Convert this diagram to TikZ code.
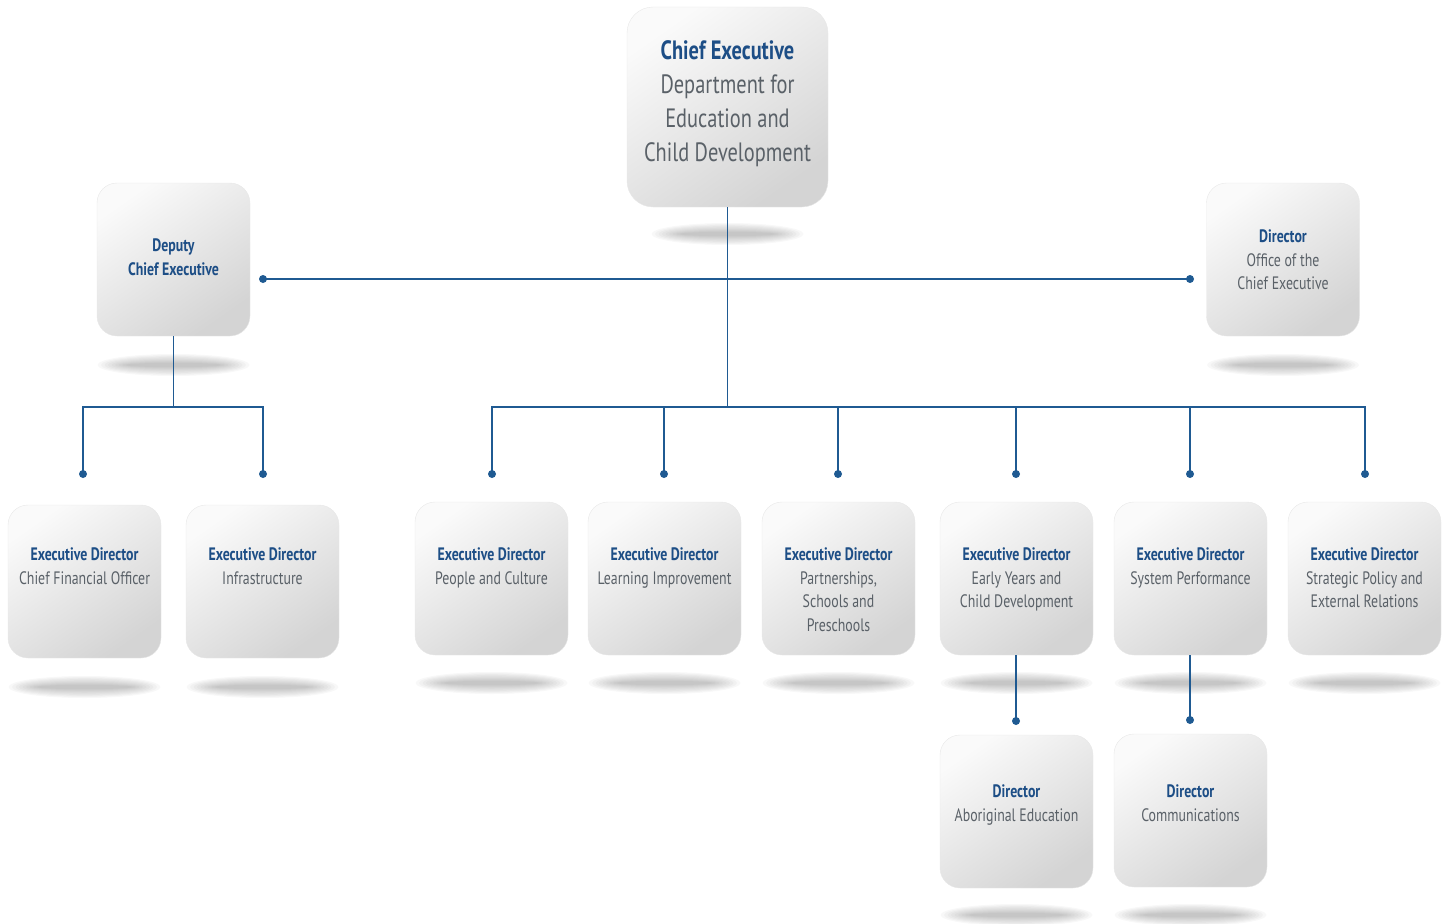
\documentclass[tikz,border=0pt]{standalone}
\usepackage{fontspec}
\setmainfont[FakeStretch=0.77]{PT Sans}
\usepackage{tikz}
\usetikzlibrary{positioning,shadings}

\definecolor{orgblue}{HTML}{1F5A92}
\definecolor{titleblue}{HTML}{1D4E86}
\definecolor{subgray}{HTML}{5A6168}

\tikzset{
  card/.style={rectangle, rounded corners=20pt, minimum width=153pt, minimum height=153pt,
    draw=black!9, top color=black!2, bottom color=black!17, shading angle=35, inner sep=0pt},
  cardtext/.style={align=center, text=subgray, font=\fontsize{18}{23.5}\selectfont, inner sep=0pt},
  bigtext/.style={cardtext, font=\fontsize{26.5}{34}\selectfont},
  wire/.style={orgblue, line width=1.2pt},
  dot/.style={circle, fill=orgblue, inner sep=0pt, minimum size=8pt},
}
\newcommand\hd[1]{{\bfseries\color{titleblue}#1}}
% soft shadow on the floor under a card: x, y, half width
\newcommand\floorshadow[3]{%
  \foreach \k in {0,...,8}
    \fill[black, opacity=0.026] (#1,#2) ellipse [x radius={#3-3.5*\k}, y radius={11-1.1*\k}];}

\begin{document}
\begin{tikzpicture}[x=1pt, y=-1pt]
	\useasboundingbox (0,0) rectangle (1450,923);

	% shadows
	\floorshadow{727.5}{234}{76}
	\floorshadow{173.5}{365}{76}
	\floorshadow{1283}{365}{76}
	\floorshadow{84.5}{687}{76}
	\floorshadow{262.5}{687}{76}
	\foreach \x in {491.5,664.5,838.5,1016.5,1190.5,1364.5}
		\floorshadow{\x}{683}{76};
	\floorshadow{1016.5}{915}{76}
	\floorshadow{1190.5}{915}{76}

	% cards
	\node[card, minimum width=201pt, minimum height=200pt, rounded corners=26pt] (ce) at (727.5,107) {};
	\node[card] (dce) at (173.5,259.5) {};
	\node[card] (doc) at (1283,259.5) {};
	\node[card] (cfo) at (84.5,581.5) {};
	\node[card] (infr) at (262.5,581.5) {};
	\node[card] (pc) at (491.5,578.5) {};
	\node[card] (li) at (664.5,578.5) {};
	\node[card] (psp) at (838.5,578.5) {};
	\node[card] (eycd) at (1016.5,578.5) {};
	\node[card] (sp) at (1190.5,578.5) {};
	\node[card] (sper) at (1364.5,578.5) {};
	\node[card] (ae) at (1016.5,811.5) {};
	\node[card] (com) at (1190.5,810.5) {};

	% texts
	\node[bigtext, below=34pt of ce.north] (ce-t) {\hd{Chief Executive}\\Department for\\Education and\\Child Development};
	\node[cardtext, below=56pt of dce.north] (dce-t) {\hd{Deputy}\\\hd{Chief Executive}};
	\node[cardtext, below=47pt of doc.north] (doc-t) {\hd{Director}\\Office of the\\Chief Executive};
	\node[cardtext, below=43pt of cfo.north] (cfo-t) {\hd{Executive Director}\\Chief Financial Officer};
	\node[cardtext, below=43pt of infr.north] (infr-t) {\hd{Executive Director}\\Infrastructure};
	\node[cardtext, below=46pt of pc.north] (pc-t) {\hd{Executive Director}\\People and Culture};
	\node[cardtext, below=46pt of li.north] (li-t) {\hd{Executive Director}\\Learning Improvement};
	\node[cardtext, below=46pt of psp.north] (psp-t) {\hd{Executive Director}\\Partnerships,\\Schools and\\Preschools};
	\node[cardtext, below=46pt of eycd.north] (eycd-t) {\hd{Executive Director}\\Early Years and\\Child Development};
	\node[cardtext, below=46pt of sp.north] (sp-t) {\hd{Executive Director}\\System Performance};
	\node[cardtext, below=46pt of sper.north] (sper-t) {\hd{Executive Director}\\Strategic Policy and\\External Relations};
	\node[cardtext, below=50pt of ae.north] (ae-t) {\hd{Director}\\Aboriginal Education};
	\node[cardtext, below=51pt of com.north] (com-t) {\hd{Director}\\Communications};

	% dots
	\node[dot] (dl) at (263,279) {};
	\node[dot] (dr) at (1190,279) {};
	\node[dot] (k1) at (83,474) {};
	\node[dot] (k2) at (263,474) {};
	\node[dot] (r1) at (492,474) {};
	\node[dot] (r2) at (664,474) {};
	\node[dot] (r3) at (838,474) {};
	\node[dot] (r4) at (1016,474) {};
	\node[dot] (r5) at (1190,474) {};
	\node[dot] (r6) at (1365,474) {};
	\node[dot] (ae-d) at (1016,721) {};
	\node[dot] (com-d) at (1190,720) {};
	\coordinate (bus) at (727.5,407);
	\coordinate (dbus) at (173.5,407);

	% wires
	\draw[wire] (ce.south) -- (bus);
	\draw[wire] (dl.center) -- (dr.center);
	\draw[wire] (r1.center) -- (r1 |- bus) -- (r6 |- bus) -- (r6.center);
	\foreach \n in {r2,r3,r4,r5}
		\draw[wire] (\n.center) -- (\n |- bus);
	\draw[wire] (dce.south) -- (dbus);
	\draw[wire] (k1.center) -- (k1 |- dbus) -- (k2 |- dbus) -- (k2.center);
	\draw[wire] (eycd.south -| ae-d) -- (ae-d.center);
	\draw[wire] (sp.south -| com-d) -- (com-d.center);
\end{tikzpicture}
\end{document}
